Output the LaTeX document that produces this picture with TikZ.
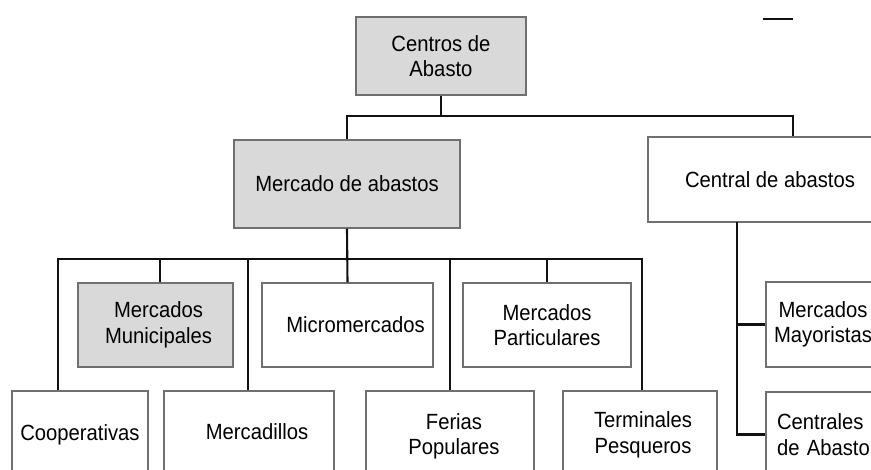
\documentclass[tikz,border=0pt]{standalone}
\usepackage{fontspec}
\newfontfamily\boxfont[FakeStretch=0.92]{Liberation Sans}
\definecolor{boxgray}{HTML}{D9D9D9}
\definecolor{edgegray}{HTML}{707070}
\definecolor{linecol}{HTML}{111111}
\begin{document}
\begin{tikzpicture}[x=1pt,y=-1pt,
  box/.style={draw=edgegray, line width=1.4pt, fill=white, inner sep=0pt,
    align=center, font=\boxfont\fontsize{22}{25.5}\selectfont, text=black},
  grey/.style={box, fill=boxgray},
  conn/.style={draw=linecol, line width=2.1pt}]
\fill[white] (0,0) rectangle (871,470);
\clip (0,0) rectangle (871,470);
% level 0
\node[grey, minimum width=170pt, minimum height=78pt] (Centros) at (441,56) {Centros de\\Abasto};
% level 1
\node[grey, minimum width=226pt, minimum height=88pt] (Mercado) at (347,184) {Mercado de abastos};
\node[box, minimum width=244pt, minimum height=85pt] (Central) at (770,179.5) {Central de abastos};
% level 2 (mercado)
\node[grey, minimum width=155pt, minimum height=84pt] (MercMun) at (155.5,325) {\hspace*{6pt}Mercados\\\hspace*{6pt}Municipales};
\node[box, minimum width=171pt, minimum height=84pt] (Micro) at (347.5,325) {\hspace*{16pt}Micromercados};
\node[box, minimum width=168pt, minimum height=84pt] (MercPart) at (547,325) {Mercados\\Particulares};
% level 3 (mercado)
\node[box, minimum width=136pt, minimum height=88pt] (Coop) at (80,435) {Cooperativas};
\node[box, minimum width=170pt, minimum height=82pt] (Mercadillos) at (249,432) {\hspace*{16pt}Mercadillos};
\node[box, minimum width=168pt, minimum height=91pt] (Ferias) at (450,436.5) {\hspace*{8pt}Ferias\\\hspace*{8pt}Populares};
\node[box, minimum width=154pt, minimum height=88pt] (Terminales) at (640,435) {\hspace*{6pt}Terminales\\\hspace*{6pt}Pesqueros};
% central children
\node[box, minimum width=114pt, minimum height=85pt] (MercMay) at (823,324.5) {Mercados\\Mayoristas};
\node[box, minimum width=114pt, minimum height=85pt, text width=114pt, align=left] (Centrales) at (823,434.5) {\hspace*{11pt}Centrales\\\hspace*{11pt}de Abasto};
% connectors, top level
\coordinate (tR) at (793,116);
\draw[conn] (Centros.south) -- (Centros.south |- tR);
\draw[conn] (Mercado.north) |- (tR) -- (tR |- Central.north);
% mercado bus
\coordinate (bL) at (58,259);
\coordinate (bR) at (642,259);
\coordinate (d2) at (160,259);
\coordinate (d3) at (248,259);
\draw[conn] (Mercado.south) -- (Micro.north);
\draw[conn] (bL |- Coop.north) -- (bL) -- (bR) -- (bR |- Terminales.north);
\draw[conn] (d2) -- (d2 |- MercMun.north);
\draw[conn] (d3) -- (d3 |- Mercadillos.north);
\draw[conn] (Ferias.north |- bL) -- (Ferias.north);
\draw[conn] (MercPart.north |- bL) -- (MercPart.north);
% central stem
\coordinate (c0) at (737,222);
\draw[conn] (c0) |- (Centrales.west);
\draw[conn] (c0 |- MercMay.west) -- (MercMay.west);
% stray mark top right
\coordinate (m1) at (763,19);
\coordinate (m2) at (793,19);
\draw[conn] (m1) -- (m2);
\end{tikzpicture}
\end{document}
